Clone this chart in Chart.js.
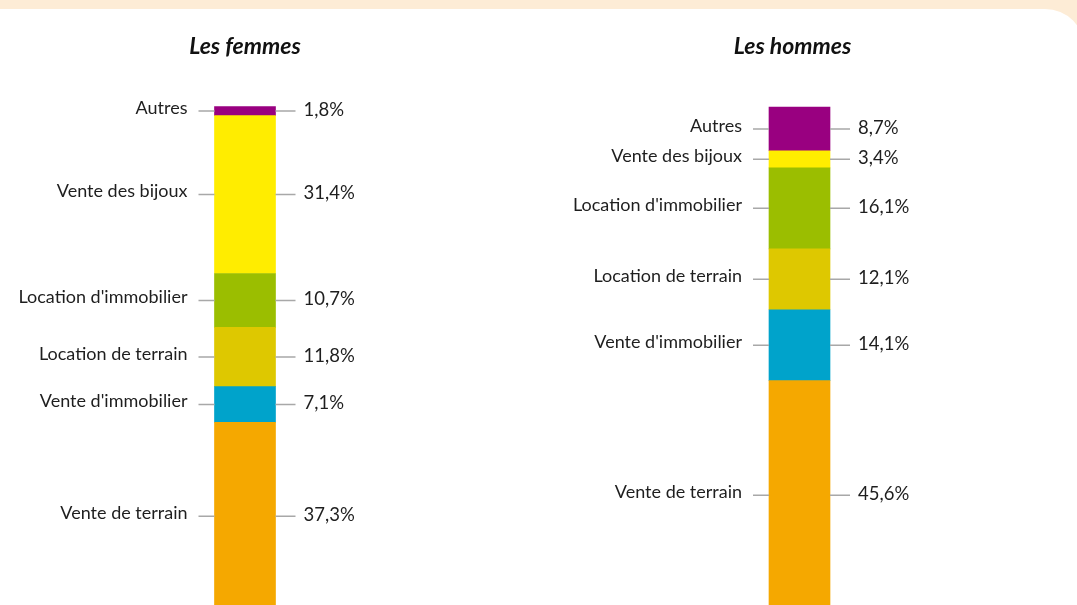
<!DOCTYPE html>
<html lang="fr">
<head>
<meta charset="utf-8">
<title>Revenus par source</title>
<script src="https://cdn.jsdelivr.net/npm/chart.js@4"></script>
<style>
  html, body { margin: 0; padding: 0; width: 1077px; height: 605px; overflow: hidden; background: #fdecd6; }
  #panel { position: absolute; left: -40px; top: 9px; width: 1125px; height: 700px; background: #fff; border-radius: 0 40px 0 0; }
  .box { position: absolute; top: 0; height: 610px; }
  #boxF { left: 0; width: 490px; }
  #boxH { left: 555px; width: 489px; }
</style>
</head>
<body>
<div id="panel"></div>
<div class="box" id="boxF"><canvas id="chartF"></canvas></div>
<div class="box" id="boxH"><canvas id="chartH"></canvas></div>
<script>
// Sources de revenus, empilées du bas vers le haut
const categories = ['Vente de terrain', "Vente d'immobilier", 'Location de terrain', "Location d'immobilier", 'Vente des bijoux', 'Autres'];
const femmes = [37.3, 7.1, 11.8, 10.7, 31.4, 1.8];
const hommes = [45.6, 14.1, 12.1, 16.1, 3.4, 8.7];
const colors = ['#f5a800', '#00a3cb', '#dec800', '#9bbe00', '#ffed00', '#990080'];

const fmt = v => v.toFixed(1).replace('.', ',') + '%';

// Libellés à gauche et pourcentages à droite de chaque segment, reliés par un trait
const callouts = {
  id: 'callouts',
  afterDatasetsDraw(chart) {
    const ctx = chart.ctx;
    chart.data.datasets.forEach((ds, i) => {
      const bar = chart.getDatasetMeta(i).data[0];
      const { x, y, base, width } = bar.getProps(['x', 'y', 'base', 'width'], true);
      const cy = (y + base) / 2;
      const left = x - width / 2, right = x + width / 2;
      ctx.save();
      ctx.strokeStyle = '#a8a8a8';
      ctx.lineWidth = 1.5;
      ctx.beginPath();
      ctx.moveTo(left - 16, cy); ctx.lineTo(left, cy);
      ctx.moveTo(right, cy); ctx.lineTo(right + 20, cy);
      ctx.stroke();
      ctx.fillStyle = '#1e1e1e';
      ctx.textBaseline = 'middle';
      ctx.font = '18px Lato';
      ctx.textAlign = 'right';
      ctx.fillText(ds.label, left - 27, cy - 3);
      ctx.font = '18.5px Lato';
      ctx.textAlign = 'left';
      ctx.fillText(fmt(ds.data[0]), right + 28, cy - 1);
      ctx.restore();
    });
  }
};

// Titre de chaque colonne
const panelTitle = {
  id: 'panelTitle',
  afterDraw(chart, args, opts) {
    const ctx = chart.ctx;
    ctx.save();
    ctx.fillStyle = '#111';
    ctx.font = 'italic bold 23px Lato';
    ctx.textAlign = 'center';
    ctx.textBaseline = 'middle';
    ctx.fillText(opts.text, chart.width / 2 + (opts.dx || 0), 47);
    ctx.restore();
  }
};

function makeChart(id, title, values, dx) {
  return new Chart(document.getElementById(id), {
    type: 'bar',
    data: {
      labels: [title],
      datasets: categories.map((c, i) => ({
        label: c,
        data: [values[i]],
        backgroundColor: colors[i],
        borderWidth: 0,
        barThickness: 61,
        clip: false
      }))
    },
    options: {
      responsive: true,
      maintainAspectRatio: false,
      animation: false,
      events: [],
      layout: { padding: { top: 107, bottom: 0, left: 0, right: 0 } },
      scales: {
        x: { stacked: true, display: false },
        y: { stacked: true, display: false, min: 0, max: 100 }
      },
      plugins: {
        legend: { display: false },
        tooltip: { enabled: false },
        panelTitle: { text: title, dx: dx }
      }
    },
    plugins: [callouts, panelTitle]
  });
}

makeChart('chartF', 'Les femmes', femmes, 0);
makeChart('chartH', 'Les hommes', hommes, -7);
</script>
</body>
</html>
